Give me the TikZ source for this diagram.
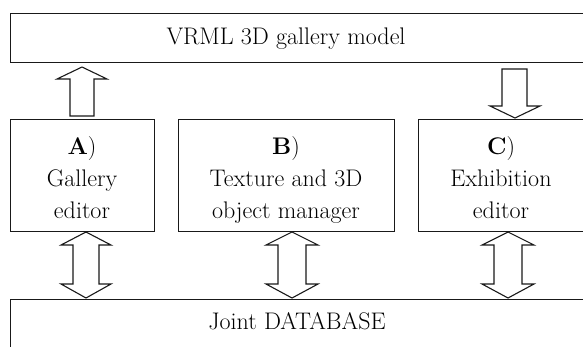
\documentclass[tikz,border=0pt]{standalone}
\usepackage{fontspec}
\begin{document}
\begin{tikzpicture}[x=1pt,y=-1pt,
  box/.style={draw=black!90,line width=1.4pt,inner sep=0pt,anchor=north west},
  lbl/.style={font=\fontsize{24}{32}\selectfont\addfontfeatures{LetterSpace=6},align=center,inner sep=0pt},
  blk/.style={draw=black!90,line width=1.1pt,fill=white,line join=miter}]
\clip (0,0) rectangle (583,346);
% boxes
\node[box,minimum width=600,minimum height=49] (model) at (10,13) {};
\node[box,minimum width=144,minimum height=112] (A) at (10,119) {};
\node[box,minimum width=216,minimum height=112] (B) at (178,119) {};
\node[box,minimum width=200,minimum height=112] (C) at (418,119) {};
\node[box,minimum width=600,minimum height=100] (db) at (10,299) {};
% texts
\node[lbl,anchor=base] (modeltxt) at (286,44) {VRML 3D gallery model};
\node[lbl,anchor=base] (dbtxt) at (297,329) {Joint DATABASE};
\node[lbl] (Atxt) at (82,177.7) {\textbf{A})\\Gallery\\editor};
\node[lbl] (Btxt) at (286,180.3) {\textbf{B})\\Texture and 3D\\object manager};
\node[lbl] (Ctxt) at (501,177.7) {\textbf{C})\\Exhibition\\editor};
% block arrows
\coordinate (upA) at (82,67);
\draw[blk] (upA) -- ++(25,12) -- ++(-13,0) -- ++(0,37) -- ++(-24,0) -- ++(0,-37) -- ++(-13,0) -- cycle;
\coordinate (dnC) at (515,118);
\draw[blk] (dnC) -- ++(25,-12) -- ++(-13,0) -- ++(0,-37) -- ++(-25,0) -- ++(0,37) -- ++(-12,0) -- cycle;
\coordinate (dA) at (86,232);
\draw[blk] (dA) -- ++(25,13) -- ++(-12,0) -- ++(0,39) -- ++(12,0) -- ++(-25,14) -- ++(-25,-14) -- ++(12,0) -- ++(0,-39) -- ++(-12,0) -- cycle;
\coordinate (dB) at (292,232);
\draw[blk] (dB) -- ++(26,13) -- ++(-12,0) -- ++(0,39) -- ++(12,0) -- ++(-26,14) -- ++(-26,-14) -- ++(12,0) -- ++(0,-39) -- ++(-12,0) -- cycle;
\coordinate (dC) at (508,232);
\draw[blk] (dC) -- ++(26,13) -- ++(-12,0) -- ++(0,39) -- ++(12,0) -- ++(-26,14) -- ++(-26,-14) -- ++(12,0) -- ++(0,-39) -- ++(-12,0) -- cycle;
\end{tikzpicture}
\end{document}
